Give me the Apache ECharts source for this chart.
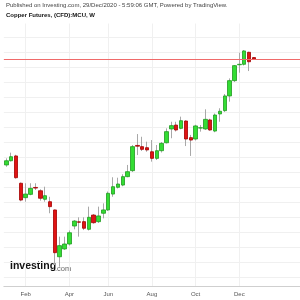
<!DOCTYPE html>
<html>
<head>
<meta charset="utf-8">
<script src="https://cdn.jsdelivr.net/npm/echarts@6/dist/echarts.min.js"></script>
<style>
  html, body { margin: 0; padding: 0; background: #fff; }
  #chart { width: 300px; height: 300px; }
</style>
</head>
<body>
<div id="chart"></div>
<script>
// weekly bars, Copper Futures (CFD):MCU, 2020
const weeks = [
  "2020-01-06", "2020-01-13", "2020-01-20", "2020-01-27",
  "2020-02-03", "2020-02-10", "2020-02-17", "2020-02-24",
  "2020-03-02", "2020-03-09", "2020-03-16", "2020-03-23", "2020-03-30",
  "2020-04-06", "2020-04-13", "2020-04-20", "2020-04-27",
  "2020-05-04", "2020-05-11", "2020-05-18", "2020-05-25",
  "2020-06-01", "2020-06-08", "2020-06-15", "2020-06-22", "2020-06-29",
  "2020-07-06", "2020-07-13", "2020-07-20", "2020-07-27",
  "2020-08-03", "2020-08-10", "2020-08-17", "2020-08-24", "2020-08-31",
  "2020-09-07", "2020-09-14", "2020-09-21", "2020-09-28",
  "2020-10-05", "2020-10-12", "2020-10-19", "2020-10-26",
  "2020-11-02", "2020-11-09", "2020-11-16", "2020-11-23", "2020-11-30",
  "2020-12-07", "2020-12-14", "2020-12-21", "2020-12-28",
];
// empty weeks kept on the right of the price scale
const futureWeeks = [
  "2021-01-04", "2021-01-11", "2021-01-18", "2021-01-25",
  "2021-02-01", "2021-02-08", "2021-02-15", "2021-02-22", "2021-03-01",
];

const opens = [
  2.847, 2.875, 2.907, 2.725, 2.629, 2.651, 2.697, 2.675, 2.618, 2.602,
  2.547, 2.235, 2.287, 2.320, 2.440, 2.468, 2.469, 2.418, 2.513, 2.469,
  2.525, 2.547, 2.653, 2.698, 2.713, 2.769, 2.809, 2.977, 2.969, 2.962,
  2.935, 2.891, 2.942, 2.995, 3.087, 3.113, 3.091, 3.140, 3.029, 3.020,
  3.093, 3.087, 3.147, 3.073, 3.187, 3.209, 3.307, 3.409, 3.515, 3.518,
  3.598, 3.563,
];
const closes = [
  2.875, 2.902, 2.762, 2.613, 2.653, 2.691, 2.693, 2.625, 2.642, 2.569,
  2.262, 2.309, 2.320, 2.395, 2.473, 2.465, 2.425, 2.498, 2.462, 2.507,
  2.547, 2.658, 2.702, 2.720, 2.769, 2.802, 2.969, 2.972, 2.951, 2.947,
  2.891, 2.942, 2.991, 3.069, 3.109, 3.080, 3.142, 3.020, 3.013, 3.107,
  3.095, 3.151, 3.080, 3.180, 3.205, 3.307, 3.409, 3.509, 3.518, 3.607,
  3.535, 3.553,
];
const lows = [
  2.835, 2.870, 2.755, 2.605, 2.602, 2.645, 2.680, 2.609, 2.602, 2.525,
  2.180, 2.169, 2.280, 2.310, 2.418, 2.369, 2.413, 2.410, 2.455, 2.460,
  2.491, 2.540, 2.635, 2.690, 2.705, 2.765, 2.800, 2.913, 2.940, 2.935,
  2.869, 2.880, 2.930, 2.990, 3.025, 3.070, 3.085, 2.973, 2.907, 3.010,
  3.069, 3.080, 3.075, 3.065, 3.135, 3.200, 3.269, 3.400, 3.462, 3.510,
  3.473, 3.550,
];
const highs = [
  2.891, 2.929, 2.915, 2.730, 2.725, 2.725, 2.725, 2.685, 2.702, 2.635,
  2.550, 2.369, 2.369, 2.410, 2.480, 2.498, 2.498, 2.569, 2.520, 2.569,
  2.591, 2.670, 2.765, 2.762, 2.785, 2.847, 2.980, 3.053, 3.035, 3.002,
  3.013, 2.980, 3.000, 3.091, 3.135, 3.135, 3.169, 3.145, 3.047, 3.115,
  3.113, 3.218, 3.155, 3.190, 3.225, 3.320, 3.424, 3.513, 3.595, 3.613,
  3.602, 3.565,
];

// month names shown under the first bar of each labelled month
const monthLabels = { 4: "Feb", 13: "Apr", 21: "Jun", 30: "Aug", 39: "Oct", 48: "Dec" };

const palette = {
  up: "#33dd33",
  upEdge: "#1f9a1f",
  down: "#e01414",
  downEdge: "#a30000",
  wick: "#a8a8a8",
  grid: "#f0f0f0",
  axis: "#cfcfcf",
  text: "#555",
  lastPrice: "#f06a6a",
};

const isLabelled = (index) => monthLabels[index] !== undefined;

const wickData = weeks.map((_, i) => [opens[i], closes[i], lows[i], highs[i]]);
const bodyData = weeks.map((_, i) => [
  opens[i], closes[i], Math.min(opens[i], closes[i]), Math.max(opens[i], closes[i]),
]);
const lastClose = closes[closes.length - 1];

const chart = echarts.init(document.getElementById("chart"), null, { renderer: "canvas" });
chart.setOption({
  animation: false,
  grid: { left: 3.86, top: 23.5, width: 297.4, height: 262.5 },
  xAxis: {
    type: "category",
    data: weeks.concat(futureWeeks),
    boundaryGap: true,
    axisLine: { lineStyle: { color: palette.axis } },
    axisTick: { interval: isLabelled, alignWithLabel: true, length: 3, lineStyle: { color: palette.axis } },
    axisLabel: {
      interval: isLabelled,
      formatter: (value, index) => monthLabels[index] || "",
      color: palette.text,
      fontSize: 6,
      fontFamily: "Liberation Sans",
      margin: 5,
    },
    splitLine: { show: true, interval: isLabelled, alignWithLabel: true, lineStyle: { color: palette.grid } },
  },
  yAxis: {
    type: "value",
    min: 2.04,
    max: 3.79,
    splitNumber: 17,
    axisLine: { show: false },
    axisTick: { show: false },
    axisLabel: { show: false },
    splitLine: { show: true, showMinLine: false, showMaxLine: false, lineStyle: { color: palette.grid } },
  },
  series: [
    {
      name: "last price",
      type: "line",
      data: [],
      z: 1,
      markLine: {
        silent: true,
        symbol: "none",
        label: { show: false },
        lineStyle: { color: palette.lastPrice, type: "solid", width: 1 },
        data: [{ yAxis: lastClose }],
      },
    },
    {
      name: "wick",
      type: "candlestick",
      barWidth: 1,
      z: 2,
      data: wickData,
      itemStyle: {
        color: palette.wick, color0: palette.wick,
        borderColor: palette.wick, borderColor0: palette.wick, borderWidth: 1,
      },
    },
    {
      name: "body",
      type: "candlestick",
      barWidth: 4,
      z: 3,
      data: bodyData,
      itemStyle: {
        color: palette.up, color0: palette.down,
        borderColor: palette.upEdge, borderColor0: palette.downEdge, borderWidth: 0.8,
      },
    },
  ],
  graphic: [
    {
      type: "text", left: 6, top: 2,
      style: {
        text: "Published on Investing.com, 29/Dec/2020 - 5:59:06 GMT, Powered by TradingView.",
        fill: "#444", font: "6px 'Liberation Sans'",
      },
    },
    {
      type: "text", left: 6, top: 12,
      style: { text: "Copper Futures, (CFD):MCU, W", fill: "#111", font: "bold 6px 'Liberation Sans'" },
    },
    {
      type: "text", left: 10, top: 261,
      style: { text: "Investing", fill: "#111", font: "bold 10.5px 'Liberation Sans'" },
    },
    {
      type: "text", left: 55, top: 265,
      style: { text: ".com", fill: "#666", font: "7.5px 'Liberation Sans'" },
    },
  ],
});
</script>
</body>
</html>
